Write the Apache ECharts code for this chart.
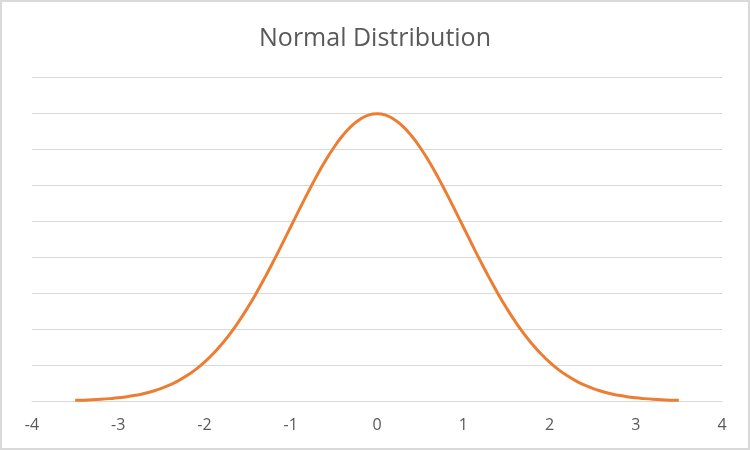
<!DOCTYPE html>
<html>
<head>
<meta charset="utf-8">
<script src="https://cdn.jsdelivr.net/npm/echarts@6/dist/echarts.min.js"></script>
<style>
html,body{margin:0;padding:0;background:#fff;}
#chart{width:750px;height:450px;box-sizing:border-box;border:2px solid #d9d9d9;}
</style>
</head>
<body>
<div id="chart"></div>
<script>
const chartTitle = "Normal Distribution";
const xValues = [
 -3.5,-3.4,-3.3,-3.2,-3.1,-3.0,-2.9,-2.8,-2.7,-2.6,-2.5,-2.4,-2.3,-2.2,-2.1,-2.0,-1.9,-1.8,-1.7,-1.6,
 -1.5,-1.4,-1.3,-1.2,-1.1,-1.0,-0.9,-0.8,-0.7,-0.6,-0.5,-0.4,-0.3,-0.2,-0.1,0.0,
 0.1,0.2,0.3,0.4,0.5,0.6,0.7,0.8,0.9,1.0,1.1,1.2,1.3,1.4,1.5,1.6,1.7,1.8,1.9,2.0,
 2.1,2.2,2.3,2.4,2.5,2.6,2.7,2.8,2.9,3.0,3.1,3.2,3.3,3.4,3.5
];
const yValues = [
 0.0009,0.0012,0.0017,0.0024,0.0033,0.0044,0.0060,0.0079,0.0104,0.0136,0.0175,0.0224,0.0283,0.0355,0.0440,0.0540,0.0656,0.0790,0.0940,0.1109,
 0.1295,0.1497,0.1714,0.1942,0.2179,0.2420,0.2661,0.2897,0.3123,0.3332,0.3521,0.3683,0.3814,0.3910,0.3970,0.3989,
 0.3970,0.3910,0.3814,0.3683,0.3521,0.3332,0.3123,0.2897,0.2661,0.2420,0.2179,0.1942,0.1714,0.1497,0.1295,0.1109,0.0940,0.0790,0.0656,0.0540,
 0.0440,0.0355,0.0283,0.0224,0.0175,0.0136,0.0104,0.0079,0.0060,0.0044,0.0033,0.0024,0.0017,0.0012,0.0009
];
const points = xValues.map((x, i) => [x, yValues[i]]);

const chart = echarts.init(document.getElementById('chart'));
chart.setOption({
  animation: false,
  title: {
    text: chartTitle,
    left: 'center',
    top: 19,
    textStyle: {fontFamily: 'Open Sans', fontSize: 25, fontWeight: 'normal', color: '#595959'}
  },
  grid: {left: 30, right: 26, top: 75, bottom: 47},
  xAxis: {
    type: 'value', min: -4, max: 4, interval: 1,
    axisLine: {show: true, lineStyle: {color: '#d9d9d9', width: 1}},
    axisTick: {show: false},
    splitLine: {show: false},
    axisLabel: {color: '#595959', fontSize: 16, fontFamily: 'Open Sans', margin: 16}
  },
  yAxis: {
    type: 'value', min: 0, max: 0.45, interval: 0.05,
    axisLine: {show: false},
    axisTick: {show: false},
    axisLabel: {show: false},
    splitLine: {lineStyle: {color: '#d9d9d9', width: 1}}
  },
  series: [{
    type: 'line',
    data: points,
    smooth: true,
    showSymbol: false,
    lineStyle: {color: '#ED7D31', width: 3}
  }]
});
</script>
</body>
</html>
